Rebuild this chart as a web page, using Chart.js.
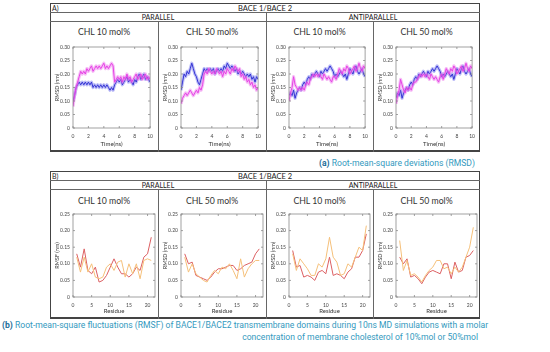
<!DOCTYPE html>
<html>
<head>
<meta charset="utf-8">
<script src="https://cdn.jsdelivr.net/npm/chart.js@4/dist/chart.umd.min.js"></script>
<style>
  body { margin: 0; background: #fff; width: 550px; height: 352px; position: relative; overflow: hidden; font-family: Lato, "Open Sans", sans-serif; color: #222; }
  .box { position: absolute; border: 1px solid #444; border-bottom-width: 2px; box-sizing: border-box; }
  .hl { position: absolute; height: 0; border-top: 1px solid #666; }
  .vl { position: absolute; width: 0; border-left: 1px solid #666; }
  .t { position: absolute; white-space: nowrap; line-height: 1; text-align: center; }
  canvas { position: absolute; }
  .cap { position: absolute; font-family: Roboto, sans-serif; color: #3399be; font-size: 8.6px; white-space: nowrap; line-height: 1; }
  .cap b { color: #1d6e98; }
</style>
</head>
<body>
<div class="cap" style="right:75px; top:159px;"><b>(a)</b> Root-mean-square deviations (RMSD)</div>
<div class="cap" style="left:2px; top:321px;"><b>(b)</b> Root-mean-square fluctuations (RMSF) of BACE1/BACE2 transmembrane domains during 10ns MD simulations with a molar</div>
<div class="cap" style="right:72px; top:333px;">concentration of membrane cholesterol of 10%mol or 50%mol</div>
<script>
// ---- data ----
const rmsdTime = [0, 0.2, 0.4, 0.6, 0.8, 1, 1.2, 1.4, 1.6, 1.8, 2, 2.2, 2.4, 2.6, 2.8, 3, 3.2, 3.4, 3.6, 3.8,
  4, 4.2, 4.4, 4.6, 4.8, 5, 5.2, 5.4, 5.6, 5.8, 6, 6.2, 6.4, 6.6, 6.8, 7, 7.2, 7.4, 7.6, 7.8,
  8, 8.2, 8.4, 8.6, 8.8, 9, 9.2, 9.4, 9.6, 9.8, 10];

const parallel10Magenta = [0.08,0.12,0.15,0.17,0.19,0.21,0.20,0.21,0.20,0.22,0.21,0.22,0.23,0.21,0.22,0.23,0.22,0.23,0.22,0.23,
  0.24,0.22,0.23,0.22,0.23,0.24,0.23,0.17,0.18,0.19,0.18,0.19,0.17,0.19,0.18,0.20,0.18,0.19,0.17,0.18,
  0.19,0.20,0.18,0.19,0.20,0.18,0.19,0.20,0.18,0.19,0.18];
const parallel10Blue = [0.10,0.12,0.15,0.16,0.17,0.16,0.17,0.16,0.17,0.16,0.17,0.16,0.17,0.15,0.16,0.15,0.16,0.15,0.16,0.15,
  0.16,0.15,0.16,0.15,0.14,0.15,0.14,0.16,0.17,0.18,0.17,0.18,0.16,0.17,0.18,0.19,0.17,0.18,0.17,0.16,
  0.18,0.17,0.19,0.20,0.18,0.19,0.20,0.18,0.19,0.18,0.17];
const parallel50Magenta = [0.09,0.11,0.12,0.13,0.12,0.13,0.14,0.13,0.12,0.13,0.14,0.13,0.15,0.14,0.16,0.20,0.21,0.20,0.22,0.21,
  0.20,0.21,0.20,0.22,0.21,0.20,0.21,0.19,0.21,0.20,0.22,0.21,0.20,0.22,0.21,0.23,0.22,0.21,0.22,0.19,
  0.20,0.18,0.19,0.17,0.18,0.16,0.17,0.15,0.16,0.14,0.15];
const parallel50Blue = [0.14,0.17,0.20,0.19,0.21,0.20,0.22,0.24,0.22,0.20,0.19,0.17,0.16,0.18,0.20,0.22,0.21,0.22,0.21,0.22,
  0.21,0.22,0.20,0.21,0.22,0.21,0.22,0.21,0.23,0.22,0.24,0.23,0.22,0.23,0.22,0.21,0.22,0.20,0.21,0.20,
  0.21,0.20,0.19,0.20,0.19,0.20,0.18,0.19,0.17,0.19,0.18];
const anti10Magenta = [0.10,0.13,0.15,0.19,0.16,0.15,0.14,0.15,0.14,0.15,0.14,0.16,0.17,0.16,0.18,0.19,0.20,0.19,0.20,0.19,
  0.20,0.19,0.18,0.20,0.19,0.18,0.19,0.18,0.17,0.19,0.19,0.18,0.20,0.22,0.21,0.20,0.22,0.21,0.23,0.22,
  0.20,0.21,0.22,0.23,0.21,0.22,0.24,0.22,0.21,0.23,0.22];
const anti10Blue = [0.12,0.13,0.12,0.14,0.11,0.13,0.14,0.15,0.14,0.16,0.17,0.16,0.18,0.19,0.18,0.20,0.19,0.20,0.21,0.20,
  0.19,0.21,0.20,0.21,0.22,0.21,0.22,0.23,0.22,0.21,0.19,0.20,0.19,0.20,0.21,0.20,0.19,0.20,0.18,0.20,
  0.22,0.21,0.20,0.22,0.23,0.21,0.20,0.21,0.22,0.20,0.19];
const anti50Magenta = [0.09,0.12,0.14,0.18,0.16,0.14,0.13,0.15,0.14,0.15,0.14,0.16,0.17,0.17,0.18,0.19,0.20,0.19,0.20,0.19,
  0.20,0.19,0.18,0.20,0.19,0.18,0.19,0.18,0.17,0.19,0.20,0.18,0.20,0.22,0.21,0.20,0.22,0.21,0.23,0.22,
  0.20,0.21,0.22,0.23,0.21,0.22,0.24,0.22,0.21,0.23,0.22];
const anti50Blue = [0.11,0.13,0.12,0.14,0.11,0.13,0.14,0.15,0.14,0.16,0.17,0.16,0.18,0.19,0.18,0.20,0.19,0.20,0.21,0.20,
  0.19,0.21,0.20,0.21,0.22,0.21,0.22,0.23,0.22,0.21,0.19,0.20,0.19,0.20,0.21,0.20,0.19,0.20,0.18,0.20,
  0.22,0.21,0.20,0.22,0.23,0.21,0.20,0.21,0.22,0.20,0.19];

const residues = [1,2,3,4,5,6,7,8,9,10,11,12,13,14,15,16,17,18,19,20,21];
const rmsfParallel10Red =    [0.13,0.09,0.145,0.08,0.07,0.09,0.045,0.05,0.065,0.09,0.115,0.09,0.07,0.07,0.06,0.07,0.09,0.08,0.12,0.13,0.18];
const rmsfParallel10Orange = [0.12,0.075,0.12,0.075,0.10,0.06,0.055,0.06,0.09,0.10,0.08,0.105,0.11,0.06,0.10,0.07,0.10,0.055,0.11,0.115,0.11];
const rmsfParallel50Red =    [0.13,0.10,0.105,0.065,0.06,0.055,0.05,0.06,0.075,0.085,0.085,0.09,0.095,0.095,0.08,0.085,0.095,0.10,0.105,0.13,0.145];
const rmsfParallel50Orange = [0.12,0.075,0.10,0.07,0.06,0.05,0.045,0.065,0.08,0.07,0.09,0.085,0.10,0.08,0.055,0.115,0.06,0.085,0.10,0.11,0.11];
const rmsfAnti10Red =        [0.14,0.09,0.095,0.06,0.065,0.06,0.05,0.075,0.08,0.07,0.12,0.065,0.07,0.065,0.055,0.075,0.085,0.12,0.12,0.14,0.19];
const rmsfAnti10Orange =     [0.13,0.08,0.115,0.10,0.085,0.065,0.065,0.10,0.09,0.115,0.18,0.12,0.105,0.065,0.07,0.10,0.09,0.12,0.15,0.14,0.215];
const rmsfAnti50Red =        [0.12,0.10,0.115,0.06,0.065,0.055,0.04,0.06,0.075,0.08,0.075,0.07,0.10,0.10,0.055,0.105,0.075,0.08,0.12,0.125,0.14];
const rmsfAnti50Orange =     [0.17,0.08,0.11,0.065,0.07,0.06,0.045,0.065,0.08,0.09,0.11,0.11,0.085,0.09,0.07,0.09,0.075,0.09,0.12,0.15,0.21];

const rmsdXTicks = [0, 2, 4, 6, 8, 10];
const rmsdYTicks = [0, 0.05, 0.10, 0.15, 0.20, 0.25, 0.30];
const rmsfXTicks = [0, 5, 10, 15, 20];
const rmsfYTicks = [0, 0.05, 0.10, 0.15, 0.20, 0.25];

// ---- layout boxes ----
const cells = [[50, 158], [158, 266], [266, 373], [373, 480]];

function el(cls, style, text) {
  const d = document.createElement('div');
  d.className = cls;
  Object.assign(d.style, style);
  if (text) d.textContent = text;
  document.body.appendChild(d);
  return d;
}

function drawPanel(top, bottom, letter) {
  el('box', { left: '50px', top: top + 'px', width: '430px', height: (bottom - top) + 'px' });
  el('hl', { left: '50px', top: (top + 9) + 'px', width: '430px' });
  el('hl', { left: '50px', top: (top + 18) + 'px', width: '430px' });
  el('vl', { left: '266px', top: (top + 9) + 'px', height: (bottom - top - 9) + 'px' });
  el('vl', { left: '158px', top: (top + 18) + 'px', height: (bottom - top - 18) + 'px' });
  el('vl', { left: '373px', top: (top + 18) + 'px', height: (bottom - top - 18) + 'px' });
  el('t', { left: '52px', top: (top + 1.5) + 'px', fontSize: '7px', textAlign: 'left' }, letter);
  el('t', { left: '50px', width: '430px', top: (top + 1.5) + 'px', fontSize: '7.5px' }, 'BACE 1/BACE 2');
  el('t', { left: '50px', width: '216px', top: (top + 10.5) + 'px', fontSize: '7px' }, 'PARALLEL');
  el('t', { left: '266px', width: '214px', top: (top + 10.5) + 'px', fontSize: '7px' }, 'ANTIPARALLEL');
}
drawPanel(3, 152, 'A)');
drawPanel(171, 319, 'B)');

// ---- charts ----
const framePlugin = {
  id: 'frame',
  afterDatasetsDraw(chart) {
    const { ctx, chartArea: a, scales } = chart;
    ctx.save();
    ctx.strokeStyle = '#8a8a8a';
    ctx.lineWidth = 0.8;
    ctx.strokeRect(a.left, a.top, a.right - a.left, a.bottom - a.top);
    ctx.beginPath();
    scales.x.ticks.forEach(t => {
      const p = scales.x.getPixelForValue(t.value);
      ctx.moveTo(p, a.bottom); ctx.lineTo(p, a.bottom - 2);
      ctx.moveTo(p, a.top); ctx.lineTo(p, a.top + 2);
    });
    scales.y.ticks.forEach(t => {
      const p = scales.y.getPixelForValue(t.value);
      ctx.moveTo(a.left, p); ctx.lineTo(a.left + 2, p);
      ctx.moveTo(a.right, p); ctx.lineTo(a.right - 2, p);
    });
    ctx.stroke();
    ctx.restore();
  }
};

function makeChart(cell, top, height, title, titleY, cfg) {
  const [l, r] = cells[cell];
  el('t', { left: l + 'px', width: (r - l) + 'px', top: (titleY - 4.5) + 'px', fontSize: '8.7px', color: '#333' }, title);
  const c = document.createElement('canvas');
  c.style.left = (l + 1) + 'px';
  c.style.top = top + 'px';
  c.style.width = (r - l - 1) + 'px';
  c.style.height = height + 'px';
  c.width = r - l - 1;
  c.height = height;
  document.body.appendChild(c);

  const datasets = cfg.series.map(s => ({
    data: cfg.xs.map((x, i) => ({ x: x, y: s.values[i] })),
    borderColor: s.color,
    borderWidth: s.width,
    pointRadius: 0,
    borderJoinStyle: 'round',
    tension: 0
  }));

  const tickFont = { size: 5, family: 'Lato, sans-serif' };
  new Chart(c, {
    type: 'line',
    data: { datasets },
    plugins: [framePlugin],
    options: {
      responsive: false,
      animation: false,
      layout: { padding: { top: 7, right: 3, left: 0, bottom: 0 } },
      plugins: { legend: { display: false }, tooltip: { enabled: false } },
      scales: {
        x: {
          type: 'linear', min: cfg.xMin, max: cfg.xMax,
          grid: { display: false, drawTicks: false, tickLength: 0 }, border: { display: false },
          afterBuildTicks: s => { s.ticks = cfg.xTicks.map(v => ({ value: v })); },
          afterFit: s => { s.height = cfg.xHeight; },
          ticks: { font: tickFont, color: '#444', padding: 5, maxRotation: 0 },
          title: { display: true, text: cfg.xTitle, font: { size: 6, family: 'Lato, sans-serif' }, color: '#333', padding: { top: 0, bottom: 3 } }
        },
        y: {
          min: 0, max: cfg.yMax,
          grid: { display: false, drawTicks: false, tickLength: 0 }, border: { display: false },
          afterBuildTicks: s => { s.ticks = cfg.yTicks.map(v => ({ value: v })); },
          afterFit: s => { s.width = 22; },
          ticks: { font: tickFont, color: '#444', padding: 3, callback: v => v === 0 ? '0' : v.toFixed(2) },
          title: { display: true, text: cfg.yTitle, font: { size: 5.5, family: 'Lato, sans-serif' }, color: '#333', padding: { top: 3, bottom: 0 } }
        }
      }
    }
  });
}

const magenta = '#e21fe0', magentaBand = 'rgba(236,110,236,0.45)';
const blue = '#1a1ac4', blueBand = 'rgba(90,90,235,0.40)';
const red = '#dc5f62', orange = '#f5c07a';

function rmsdCfg(mag, blu) {
  return {
    xs: rmsdTime, xMin: 0, xMax: 10, yMax: 0.3, xTicks: rmsdXTicks, yTicks: rmsdYTicks,
    xTitle: 'Time(ns)', yTitle: 'RMSD (nm)', xHeight: 23,
    series: [
      { values: mag, color: magentaBand, width: 3.2 },
      { values: mag, color: magenta, width: 1 },
      { values: blu, color: blueBand, width: 3.2 },
      { values: blu, color: blue, width: 1 }
    ]
  };
}
function rmsfCfg(redVals, orangeVals, yTitle) {
  return {
    xs: residues, xMin: 0, xMax: 22, yMax: 0.25, xTicks: rmsfXTicks, yTicks: rmsfYTicks,
    xTitle: 'Residue', yTitle: yTitle, xHeight: 21,
    series: [
      { values: orangeVals, color: orange, width: 1 },
      { values: redVals, color: red, width: 1 }
    ]
  };
}

makeChart(0, 40, 111, 'CHL 10 mol%', 32, rmsdCfg(parallel10Magenta, parallel10Blue));
makeChart(1, 40, 111, 'CHL 50 mol%', 32, rmsdCfg(parallel50Magenta, parallel50Blue));
makeChart(2, 40, 111, 'CHL 10 mol%', 32, rmsdCfg(anti10Magenta, anti10Blue));
makeChart(3, 40, 111, 'CHL 50 mol%', 32, rmsdCfg(anti50Magenta, anti50Blue));

makeChart(0, 207, 111, 'CHL 10 mol%', 201, rmsfCfg(rmsfParallel10Red, rmsfParallel10Orange, 'RMSF (nm)'));
makeChart(1, 207, 111, 'CHL 50 mol%', 201, rmsfCfg(rmsfParallel50Red, rmsfParallel50Orange, 'RMSD (nm)'));
makeChart(2, 207, 111, 'CHL 10 mol%', 201, rmsfCfg(rmsfAnti10Red, rmsfAnti10Orange, 'RMSD (nm)'));
makeChart(3, 207, 111, 'CHL 50 mol%', 201, rmsfCfg(rmsfAnti50Red, rmsfAnti50Orange, 'RMSD (nm)'));
</script>
</body>
</html>
